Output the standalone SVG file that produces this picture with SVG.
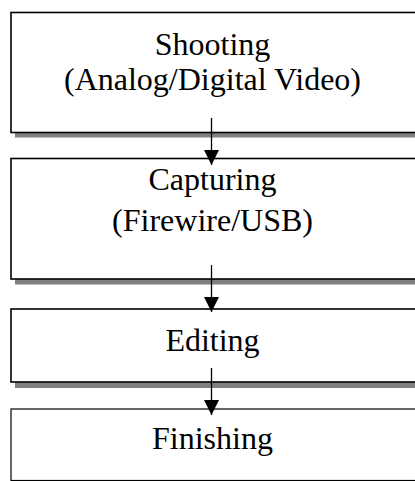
<svg xmlns="http://www.w3.org/2000/svg" width="415" height="481" viewBox="0 0 415 481">
<defs>
<style>
.shadow{fill:#808080;stroke:none}
.box{fill:#ffffff;stroke:#000000;stroke-width:1.6}
.lbl{font-family:"Liberation Serif","Times New Roman",serif;font-size:32px;fill:#000000;text-anchor:middle}
.conn{stroke:#000000;stroke-width:1.3;fill:none}
</style>
<marker id="arr" markerWidth="16" markerHeight="16" refX="15" refY="7.5" orient="auto" markerUnits="userSpaceOnUse">
<path d="M0,0 L15,7.5 L0,15 Z" fill="#000000"/>
</marker>
</defs>
<rect width="415" height="481" fill="#ffffff"/>
<g id="shooting">
<rect class="shadow" x="15" y="16.5" width="410" height="121"/>
<rect class="box" x="11" y="12.5" width="410" height="120"/>
<text class="lbl" x="212.5" y="55">Shooting</text>
<text class="lbl" x="212.5" y="90">(Analog/Digital Video)</text>
</g>
<g id="capturing">
<rect class="shadow" x="15" y="162.5" width="410" height="122"/>
<rect class="box" x="11" y="158.5" width="410" height="120.5"/>
<text class="lbl" x="212.5" y="189.5">Capturing</text>
<text class="lbl" x="212.5" y="231">(Firewire/USB)</text>
</g>
<g id="editing">
<rect class="shadow" x="15" y="313" width="410" height="75"/>
<rect class="box" x="11" y="309" width="410" height="73"/>
<text class="lbl" x="212.5" y="350.5">Editing</text>
</g>
<g id="finishing">
<rect class="shadow" x="15" y="413" width="410" height="72"/>
<rect class="box" x="11" y="409" width="410" height="71.5" style="stroke-width:1.2"/>
<text class="lbl" x="212.5" y="449">Finishing</text>
</g>
<g id="connectors">
<line class="conn" x1="211.5" y1="118" x2="211.5" y2="165" marker-end="url(#arr)"/>
<line class="conn" x1="211.5" y1="265" x2="211.5" y2="312" marker-end="url(#arr)"/>
<line class="conn" x1="211.5" y1="368" x2="211.5" y2="415" marker-end="url(#arr)"/>
</g>
</svg>
